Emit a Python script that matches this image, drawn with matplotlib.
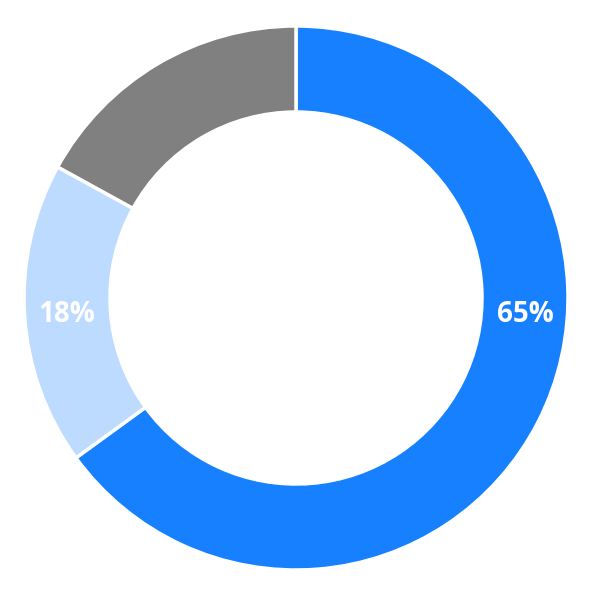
import matplotlib
matplotlib.use("Agg")
import matplotlib.pyplot as plt

categories = ["A", "B", "C"]
values = [65, 18, 17]
labels = ["65%", "18%", ""]
colors = ["#1780FF", "#BDDBFF", "#808080"]

fig = plt.figure(figsize=(5.92, 5.99), dpi=100)
ax = fig.add_axes([0, 0, 1, 1])
cx, cy = 296, 599 - 298
outer_r = 272
ring_w = 86

wedges, _ = ax.pie(values, colors=colors, startangle=90, counterclock=False,
                   radius=outer_r, center=(cx, cy),
                   wedgeprops=dict(width=ring_w, edgecolor="white", linewidth=2.5))
ax.set_xlim(0, 592)
ax.set_ylim(0, 599)
ax.set_aspect("equal")
ax.axis("off")

mid_r = outer_r - ring_w / 2
ax.text(cx + mid_r, cy - 16, labels[0], ha="center", va="center",
        color="white", fontsize=20, fontweight="bold", family=["Open Sans", "DejaVu Sans"])
ax.text(cx - mid_r, cy - 16, labels[1], ha="center", va="center",
        color="white", fontsize=20, fontweight="bold", family=["Open Sans", "DejaVu Sans"])

fig.savefig("out.png", dpi=100)
